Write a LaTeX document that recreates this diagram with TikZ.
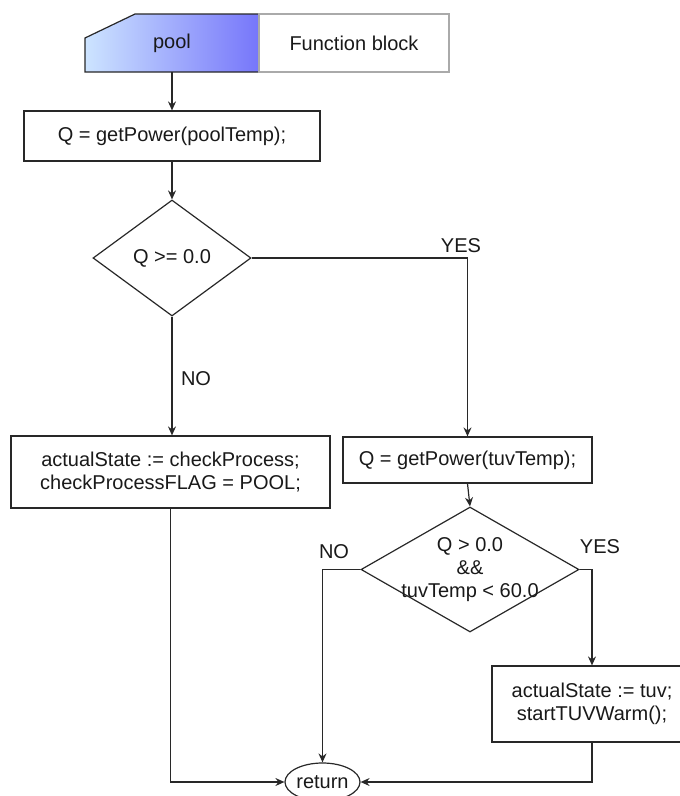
\documentclass[tikz,border=0pt]{standalone}
\usepackage{fontspec}
\setmainfont{Liberation Sans}
\usetikzlibrary{shapes.geometric,arrows.meta}

\definecolor{linecol}{RGB}{40,40,40}
\definecolor{poolleft}{RGB}{205,228,255}
\definecolor{poolright}{RGB}{118,118,250}
\definecolor{fbborder}{RGB}{170,170,170}

\begin{document}
\begin{tikzpicture}[x=1pt,y=-1pt,
  every node/.style={font=\fontsize{20}{23}\selectfont, text=black!90},
  conn/.style={draw=linecol, line width=1.2pt, -{Stealth[length=9pt,width=8pt,inset=3pt]}},
  procbox/.style={draw=linecol, line width=1.2pt, rectangle, inner sep=0pt, align=center},
  decision/.style={draw=linecol, line width=1.2pt, diamond, inner sep=0pt},
  terminal/.style={draw=linecol, line width=1.2pt, ellipse, inner sep=0pt},
  branchlabel/.style={inner sep=0pt}
]
\useasboundingbox (0,0) rectangle (680,796);

% header: function block title
\shade[left color=poolleft, right color=poolright]
  (85,38) -- (135,14) -- (259,14) -- (259,72) -- (85,72) -- cycle;
\draw[linecol, line width=1.2pt]
  (85,38) -- (135,14) -- (259,14) -- (259,72) -- (85,72) -- cycle;
\draw[fbborder, line width=1.2pt] (259,14) rectangle (449,72);
\node[minimum width=174pt, minimum height=58pt, inner sep=0pt] (pool) at (172,43) {pool};
\node[inner sep=0pt] (fblock) at (354,43) {Function block};

% process steps
\node[procbox, minimum width=296pt, minimum height=50pt] (q1) at (172,136) {Q = getPower(poolTemp);};
\node[decision, minimum width=158pt, minimum height=116pt] (d1) at (172,258) {};
\node[inner sep=0pt] (d1text) at (d1.center) {Q >= 0.0};
\node[procbox, minimum width=319pt, minimum height=72pt] (chk) at (170.5,472)
  {\fontsize{20}{22}\selectfont actualState := checkProcess;\\checkProcessFLAG = POOL;};
\node[procbox, minimum width=249pt, minimum height=46pt] (tuv) at (467.5,460) {Q = getPower(tuvTemp);};
\node[decision, minimum width=218pt, minimum height=125pt] (d2) at (470,569.5) {};
\node[inner sep=0pt, align=center] (d2text) at (470,570) {Q > 0.0\\\&\&\\tuvTemp < 60.0};
\node[procbox, minimum width=200pt, minimum height=76pt] (warm) at (592,704)
  {actualState := tuv;\\startTUVWarm();};
\node[terminal, minimum width=75pt, minimum height=38pt] (ret) at (322.5,782) {return};

% connectors
\draw[conn] (pool.south) -- (q1.north);
\draw[conn] (q1.south) -- (d1.north);
\draw[conn] (d1.east) -| (tuv.north);
\draw[conn] (d1.south) -- (d1.south |- chk.north);
\draw[conn] (tuv.south) -- (d2.north);
\draw[conn] (d2.west) -| (ret.north);
\draw[conn] (d2.east) -| (warm.north);
\draw[conn] (chk.south) |- (ret.west);
\draw[conn] (warm.south) |- (ret.east);

% branch labels
\node[branchlabel] (yes1) at (461,246) {YES};
\node[branchlabel] (no1) at (196,379) {NO};
\node[branchlabel] (no2) at (334,552) {NO};
\node[branchlabel] (yes2) at (600,547) {YES};
\end{tikzpicture}
\end{document}
